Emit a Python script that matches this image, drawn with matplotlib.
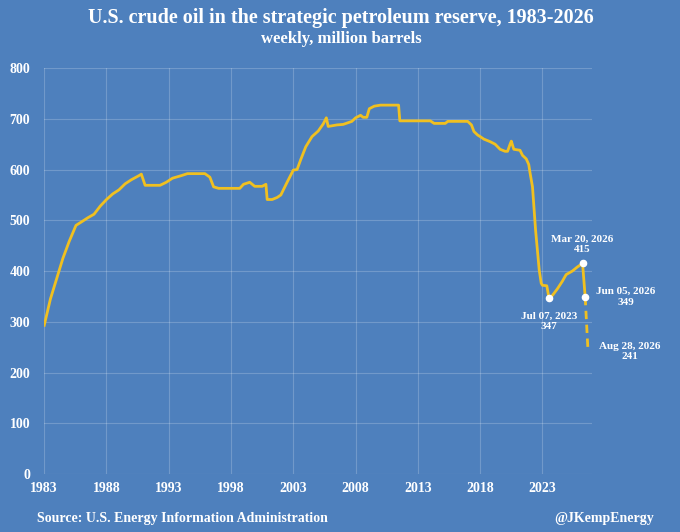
import matplotlib.pyplot as plt

# Niveis semanais aproximados da SPR (milhoes de barris)
anos = [1983.0, 1983.5, 1984.0, 1984.5, 1985.0, 1985.55, 1986.0, 1986.5, 1987.0, 1987.5,
        1988.0, 1988.5, 1989.0, 1989.5, 1990.0, 1990.6, 1990.8, 1991.1, 1992.3, 1992.8,
        1993.3, 1994.0, 1994.5, 1995.9, 1996.3, 1996.6, 1997.0, 1998.7, 1999.0, 1999.5,
        1999.9, 2000.5, 2000.8, 2000.9, 2001.3, 2001.7, 2002.0, 2002.5, 2003.0, 2003.3,
        2003.6, 2004.0, 2004.5, 2005.0, 2005.4, 2005.65, 2005.8, 2006.5, 2007.0, 2007.7,
        2008.0, 2008.4, 2008.6, 2008.9, 2009.1, 2009.5, 2010.0, 2011.45, 2011.55, 2012.0,
        2013.0, 2014.0, 2014.3, 2015.2, 2015.4, 2017.0, 2017.3, 2017.5, 2017.8, 2018.0,
        2018.3, 2018.8, 2019.2, 2019.6, 2020.0, 2020.2, 2020.4, 2020.5, 2020.7, 2021.2,
        2021.4, 2021.7, 2021.9, 2022.0, 2022.2, 2022.45, 2022.74, 2022.9, 2023.0, 2023.35,
        2023.52, 2023.8, 2024.2, 2024.6, 2024.9, 2025.4, 2025.8, 2026.22, 2026.43]
barris = [293, 345, 385, 425, 458, 490, 497, 505, 512, 528,
          541, 552, 560, 572, 580, 588, 591, 569, 569, 575,
          583, 588, 592, 592, 585, 566, 563, 563, 571, 575,
          567, 567, 571, 541, 541, 545, 550, 575, 599, 600,
          620, 645, 665, 676, 690, 702, 685, 688, 689, 695,
          702, 707, 703, 703, 720, 725, 727, 727, 696, 696,
          696, 696, 691, 691, 695, 695, 688, 675, 668, 665,
          660, 655, 650, 640, 636, 636, 650, 656, 640, 638,
          628, 621, 610, 594, 566, 480, 402, 376, 372, 371,
          347, 352, 365, 380, 393, 400, 408, 415, 349]

# Projecao (tracejado)
anos_proj = [2026.43, 2026.66]
barris_proj = [349, 241]

# Pontos anotados
pontos_x = [2023.52, 2026.22, 2026.43]
pontos_y = [347, 415, 349]
rotulos = ["Jul 07, 2023\n347", "Mar 20, 2026\n415", "Jun 05, 2026\n349"]
rotulo_final = "Aug 28, 2026\n241"

fundo = "#4e80bd"
amarelo = "#f0c020"
fonte = "Liberation Serif"

plt.rcParams["font.family"] = fonte
plt.rcParams["font.weight"] = "bold"

fig = plt.figure(figsize=(6.8, 5.32), dpi=100, facecolor=fundo)
ax = fig.add_axes([0.065, 0.109, 0.806, 0.763], facecolor=fundo)

ax.plot(anos, barris, color=amarelo, linewidth=2.0, zorder=3)
ax.plot(anos_proj, barris_proj, color=amarelo, linewidth=2.0, linestyle=(0, (3, 2)), zorder=3)
ax.scatter(pontos_x, pontos_y, color="white", s=20, zorder=4)

# Anotacoes
estilo = dict(textcoords="offset points", color="white", fontsize=8,
              fontweight="bold", linespacing=1.2, multialignment="center")
ax.annotate(rotulos[0], (pontos_x[0], pontos_y[0]), xytext=(0, -10), ha="center", va="top", **estilo)
ax.annotate(rotulos[1], (pontos_x[1], pontos_y[1]), xytext=(0, 7), ha="center", va="bottom", **estilo)
ax.annotate(rotulos[2], (pontos_x[2], pontos_y[2]), xytext=(8, 0), ha="left", va="center", **estilo)
ax.annotate(rotulo_final, (anos_proj[1], barris_proj[1]), xytext=(8, 0), ha="left", va="center", **estilo)

# Eixos
ax.set_xlim(1983, 2027)
ax.set_ylim(0, 800)
ax.set_xticks(range(1983, 2024, 5))
ax.set_yticks(range(0, 801, 100))
ax.grid(True, color="white", alpha=0.2, linewidth=0.8)
ax.set_axisbelow(True)
for s in ax.spines.values():
    s.set_visible(False)
ax.tick_params(length=0, colors="white", labelsize=10)
ax.tick_params(axis="y", pad=10)
ax.tick_params(axis="x", pad=6)
for lb in ax.get_xticklabels() + ax.get_yticklabels():
    lb.set_fontweight("bold")

# Titulos e rodape
fig.text(0.502, 0.967, "U.S. crude oil in the strategic petroleum reserve, 1983-2026",
         ha="center", va="center", color="white", fontsize=14.5, fontweight="bold")
fig.text(0.502, 0.927, "weekly, million barrels", ha="center", va="center",
         color="white", fontsize=12, fontweight="bold")
fig.text(0.054, 0.026, "Source: U.S. Energy Information Administration", ha="left",
         va="center", color="white", fontsize=10, fontweight="bold")
fig.text(0.962, 0.026, "@JKempEnergy", ha="right", va="center",
         color="white", fontsize=10, fontweight="bold")

fig.savefig("out.png", dpi=100, facecolor=fundo)
